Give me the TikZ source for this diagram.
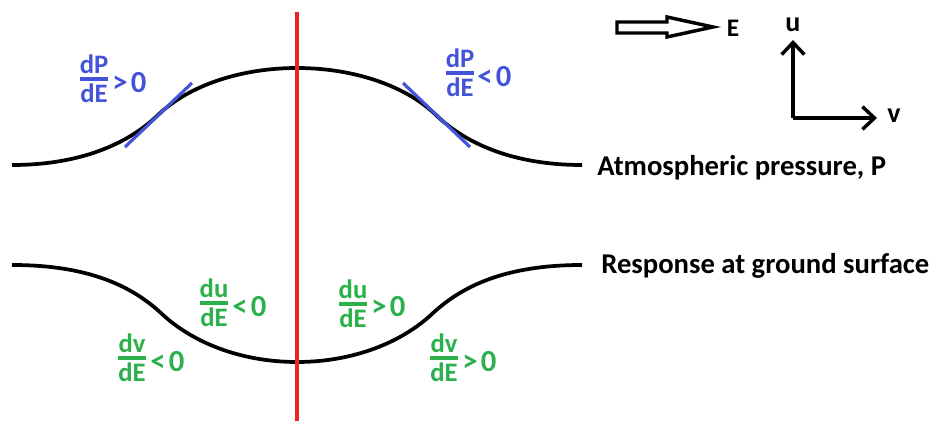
\documentclass[tikz,border=0pt]{standalone}
\usepackage{fontspec}
\setmainfont{Carlito}
\usetikzlibrary{arrows.meta}
\definecolor{pblue}{RGB}{68,84,216}
\definecolor{ugreen}{RGB}{44,176,76}
\definecolor{vred}{RGB}{232,36,36}
\newcommand\myfrac[2]{${\hbox{\fontsize{20}{20}\selectfont\bfseries #1}\above 2.6pt\hbox{\fontsize{20}{20}\selectfont\bfseries #2}}$}
\tikzset{
  curve/.style={line width=2.8pt, black},
  tang/.style={line width=2.4pt, pblue},
  fr/.style={inner sep=0pt, font=\bfseries},
  rel/.style={inner sep=0pt, anchor=west, font=\fontsize{23}{23}\selectfont\bfseries},
  lbl/.style={inner sep=0pt, anchor=west, font=\fontsize{21.5}{22}\selectfont\bfseries},
  ax/.style={line width=2.6pt, -{Straight Barb[length=9pt,width=17pt,line width=2.6pt]}},
}
\begin{document}
\begin{tikzpicture}[x=0.75pt,y=-0.75pt]
\useasboundingbox (0,0) rectangle (938,423);
% top curve (atmospheric pressure)
\coordinate (t0) at (12,165);
\coordinate (t1) at (158,115);
\coordinate (t2) at (297,68);
\coordinate (t3) at (436,115);
\coordinate (t4) at (582,165);
\draw[curve] (t0) .. controls (80,165) and (128,144) .. (t1)
  .. controls (188,86) and (240,68) .. (t2)
  .. controls (354,68) and (406,86) .. (t3)
  .. controls (466,144) and (514,165) .. (t4);
% bottom curve (response)
\coordinate (b0) at (12,265);
\coordinate (b1) at (162,314);
\coordinate (b2) at (297,362);
\coordinate (b3) at (432,314);
\coordinate (b4) at (582,265);
\draw[curve] (b0) .. controls (85,265) and (130,284) .. (b1)
  .. controls (192,342) and (240,362) .. (b2)
  .. controls (354,362) and (402,342) .. (b3)
  .. controls (464,284) and (509,265) .. (b4);
% red line
\coordinate (r0) at (297,12);
\coordinate (r1) at (297,421);
\draw[vred, line width=2.4pt] (r0) -- (r1);
% tangents
\coordinate (la) at (125,147);
\coordinate (lb) at (192,83);
\coordinate (ra) at (403,83);
\coordinate (rb) at (470,147);
\draw[tang] (la) -- (lb);
\draw[tang] (ra) -- (rb);
% blue labels
\node[fr, pblue] (f1) at (94,79) {\myfrac{dP}{dE}};
\node[rel, pblue] (g1) at (112,83) {>\hspace{2.5pt}0};
\node[fr, pblue] (f2) at (460,73) {\myfrac{dP}{dE}};
\node[rel, pblue] (g2) at (477,77) {<\hspace{2.5pt}0};
% green labels
\node[fr, ugreen] (f3) at (214,303) {\myfrac{du}{dE}};
\node[rel, ugreen] (g3) at (232,307) {<\hspace{2.5pt}0};
\node[fr, ugreen] (f4) at (132,358) {\myfrac{dv}{dE}};
\node[rel, ugreen] (g4) at (150,362) {<\hspace{2.5pt}0};
\node[fr, ugreen] (f5) at (353,304) {\myfrac{du}{dE}};
\node[rel, ugreen] (g5) at (371,307) {>\hspace{2.5pt}0};
\node[fr, ugreen] (f6) at (444,358) {\myfrac{dv}{dE}};
\node[rel, ugreen] (g6) at (462,362) {>\hspace{2.5pt}0};
% curve labels
\node[lbl] (pl) at (597,168) {Atmospheric pressure, P};
\node[lbl] (rl) at (601,266) {Response at ground surface};
% E arrow
\draw[line width=2.6pt, line join=miter] (617,22) -- (667,22) -- (667,17) -- (713,27) -- (667,37) -- (667,33) -- (617,33) -- cycle;
\node[lbl, anchor=center, font=\fontsize{19}{19}\selectfont\bfseries] (E) at (733,28) {E};
% axes
\coordinate (o) at (793,118);
\coordinate (uend) at (793,40);
\coordinate (vend) at (877,118);
\draw[ax] (o) -- (uend);
\draw[ax] (o) -- (vend);
\node[lbl, anchor=center, font=\fontsize{21}{21}\selectfont\bfseries] (u) at (793,25) {u};
\node[lbl, anchor=center, font=\fontsize{21}{21}\selectfont\bfseries] (v) at (894,116) {v};
\end{tikzpicture}
\end{document}
